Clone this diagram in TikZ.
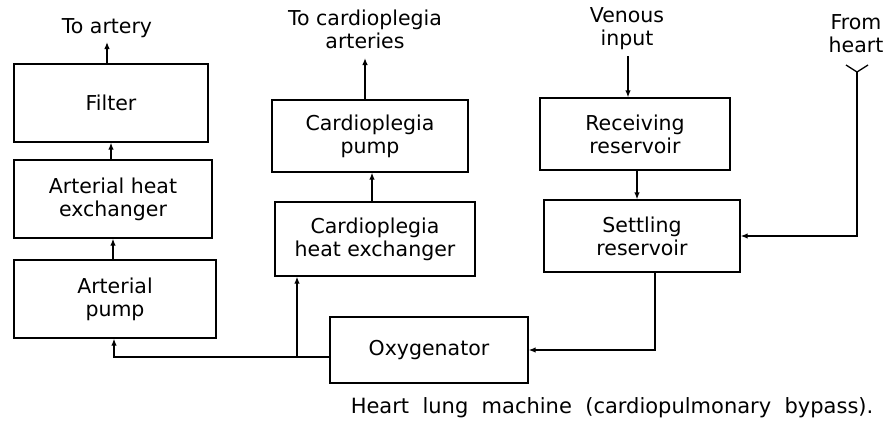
\documentclass[tikz,border=0pt]{standalone}
\usepackage{fontspec}
\setmainfont{DejaVu Sans}
\usetikzlibrary{arrows.meta}
\tikzset{
    blk/.style={draw=black, line width=1.3pt, align=center, inner sep=0pt, font=\fontsize{20.5}{23}\selectfont},
    flow/.style={line width=1.3pt, -{Latex[length=7pt,width=5.5pt]}},
    pipe/.style={line width=1.3pt},
    lbl/.style={align=center, inner sep=0pt, font=\fontsize{20.5}{23}\selectfont}
}
\begin{document}
\begin{tikzpicture}[x=1pt, y=-1pt]
    \useasboundingbox (0,0) rectangle (885,423);
    %   Arterial line
    \node[blk, minimum width=194pt, minimum height=78pt] (filter) at (111,103) {Filter};
    \node[blk, minimum width=198pt, minimum height=78pt] (ahx) at (113,199) {Arterial heat\\exchanger};
    \node[blk, minimum width=202pt, minimum height=78pt] (apump) at (115,299) {Arterial\\pump};
    %   Cardioplegia line
    \node[blk, minimum width=196pt, minimum height=72pt] (cpump) at (370,136) {Cardioplegia\\pump};
    \node[blk, minimum width=200pt, minimum height=74pt] (chx) at (375,239) {Cardioplegia\\heat exchanger};
    %   Reservoirs and oxygenator
    \node[blk, minimum width=190pt, minimum height=72pt] (rr) at (635,134) {Receiving\\reservoir};
    \node[blk, minimum width=196pt, minimum height=72pt] (sr) at (642,236) {Settling\\reservoir};
    \node[blk, minimum width=198pt, minimum height=66pt] (oxy) at (429,350) {Oxygenator};
    %   Labels
    \node[lbl] (artery) at (107,28) {To artery};
    \node[lbl] (cparteries) at (365,29) {To cardioplegia\\arteries};
    \node[lbl] (venous) at (627,29) {Venous\\input};
    \node[lbl] (heart) at (856,34) {From\\heart};
    \node[lbl, font=\fontsize{21}{24}\selectfont] (caption) at (612,408) {Heart\ \ lung\ \ machine\ \ (cardiopulmonary\ \ bypass).};
    %   Free ends
    \coordinate (arteryend) at (107,42);
    \coordinate (cpend) at (365,58);
    \coordinate (venstart) at (628,56);
    \coordinate (fork) at (857,72);
    \coordinate (split) at (297,357);
    %   Connectors
    \draw[flow] (filter.north -| arteryend) -- (arteryend);
    \draw[flow] (ahx.north -| filter.south) -- (filter.south);
    \draw[flow] (apump.north -| ahx.south) -- (ahx.south);
    \draw[flow] (oxy.west |- split) -- (split) -- (split -| 114,0) -- (114,0 |- apump.south);
    \draw[flow] (split) -- (split |- chx.south);
    \draw[flow] (chx.north -| 372,0) -- (372,0 |- cpump.south);
    \draw[flow] (cpump.north -| cpend) -- (cpend);
    \draw[flow] (venstart) -- (venstart |- rr.north);
    \draw[flow] (rr.south -| 637,0) -- (637,0 |- sr.north);
    \draw[flow] (fork) -- (fork |- sr.east) -- (sr.east);
    \draw[pipe] (846,65) -- (fork) -- (868,65);
    \draw[flow] ([xshift=13pt]sr.south) |- (oxy.east);
\end{tikzpicture}
\end{document}
